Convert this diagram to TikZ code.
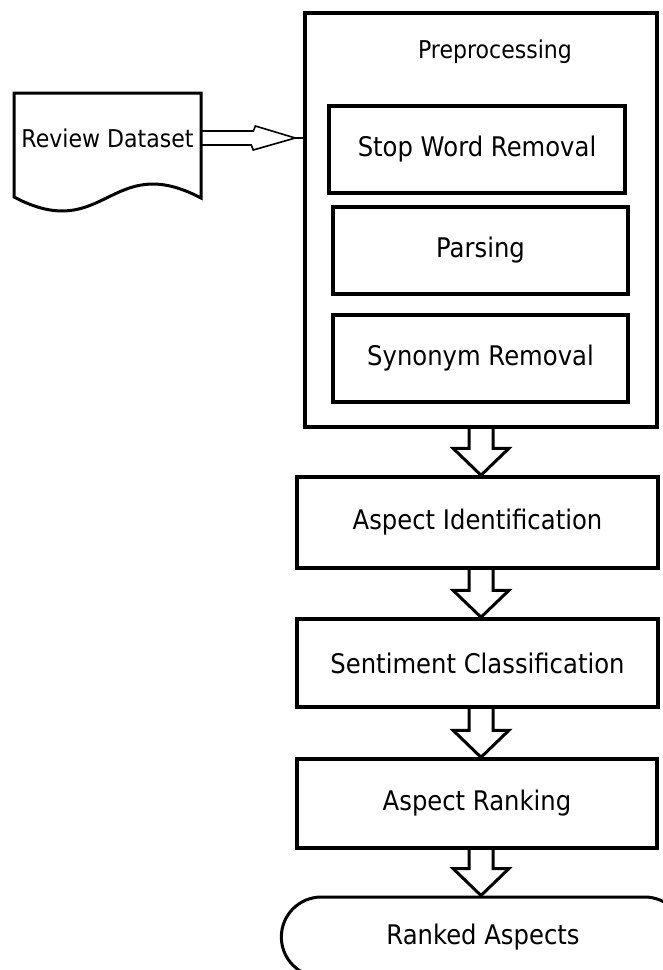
\documentclass[tikz,border=0pt]{standalone}
\usepackage{fontspec}
\setmainfont{DejaVu Sans}[FakeStretch=0.9]
\usepackage{tikz}
\usetikzlibrary{calc, shapes.misc}
\tikzset{every picture/.style={line width=0.75pt}}
\tikzset{
  procbox/.style={draw, line width=3.5pt, rectangle, minimum height=87pt, font=\fontsize{27}{32}\selectfont},
  termbox/.style={draw, line width=3pt, rounded rectangle, minimum width=410pt, minimum height=80pt, font=\fontsize{27}{32}\selectfont},
  fatline/.style={draw, line width=3pt, line join=miter},
  thinline/.style={draw, line width=1.6pt}
}
\newcommand{\fatarrow}[2]{%
  \draw[fatline] ($(pre.south |- #1.south)+(-12,0)$) -- ($(pre.south |- #2.north)+(-12,-27)$) -- ++(-16,0) -- (pre.south |- #2.north) -- ++(28,-27) -- ++(-16,0) -- ($(pre.south |- #1.south)+(12,0)$);}

\begin{document}
\begin{tikzpicture}[x=1pt,y=1pt,yscale=-1,xscale=1]
    \useasboundingbox (0,0) rectangle (662,970);
    \draw (481,220) node [procbox, minimum width=352pt, minimum height=414pt] (pre) {};
    \draw (495,52) node [font=\fontsize{24.5}{29}\selectfont] (pretitle) {Preprocessing};
    \draw (477,149.5) node [procbox, minimum width=296pt] (stop) {Stop Word Removal};
    \draw (480.5,250.5) node [procbox, minimum width=295pt] (pars) {Parsing};
    \draw (480.5,358.5) node [procbox, minimum width=295pt] (syn) {Synonym Removal};
    \draw (477.5,522.5) node [procbox, minimum width=361pt, minimum height=91pt] (aspid) {Aspect Identification};
    \draw (477.5,663) node [procbox, minimum width=361pt, minimum height=88pt] (sent) {Sentiment Classification};
    \draw (477,803.5) node [procbox, minimum width=360pt, minimum height=89pt] (rank) {Aspect Ranking};
    \draw (483,937) node [termbox] (out) {Ranked Aspects};
    \draw (107.5,138) node [minimum width=187pt, font=\fontsize{24.5}{29}\selectfont] (data) {Review Dataset};
    \draw [line width=3pt] (201,198) -- (201,93) -- (14,93) -- (14,197) .. controls (105,245) and (110,150) .. (201,198) -- cycle;
    \draw [thinline] ($(data.east)+(0,-7)$) -- ++(52,0) -- ++(2,-5) -- ($(data.east -| pre.west)+(-8,0)$) -- ++(-42,12) -- ++(-2,-5) -- ($(data.east)+(0,7)$);
    \draw [thinline] ($(data.east -| pre.west)+(-8,0)$) -- (data.east -| pre.west);
    \fatarrow{pre}{aspid}
    \fatarrow{aspid}{sent}
    \fatarrow{sent}{rank}
    \fatarrow{rank}{out}
\end{tikzpicture}
\end{document}
